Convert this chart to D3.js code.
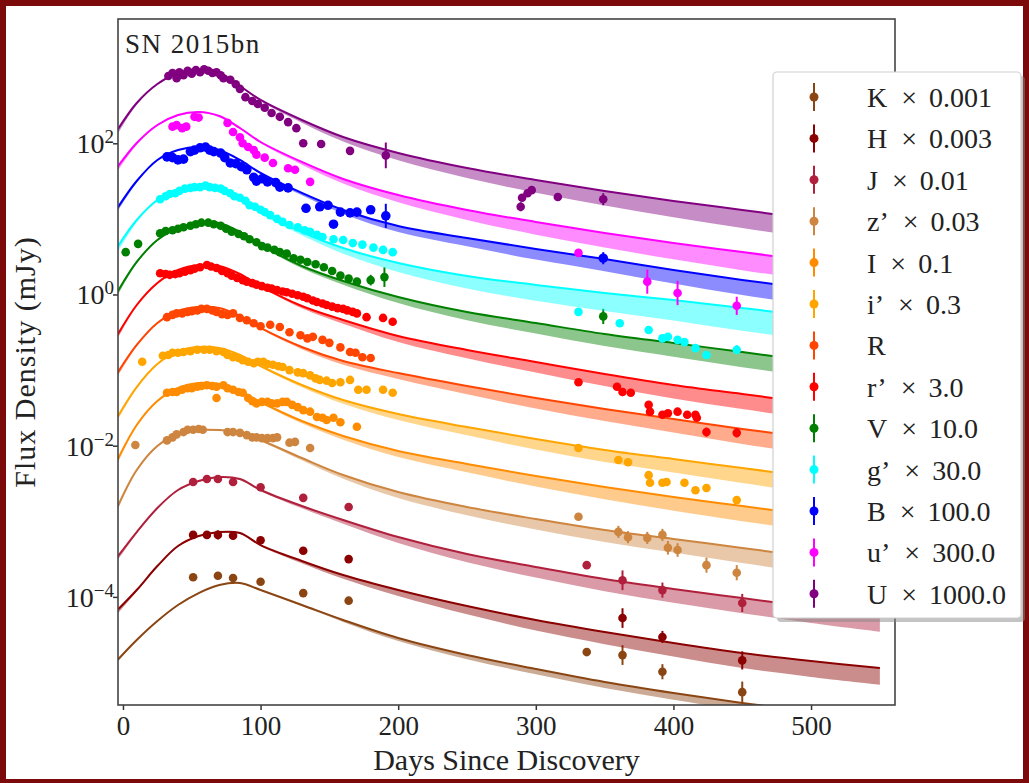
<!DOCTYPE html>
<html>
<head>
<meta charset="utf-8">
<script src="https://cdn.jsdelivr.net/npm/d3@7"></script>
<style>
  html, body { margin: 0; padding: 0; background: #7d0a0a; }
  svg { display: block; }
  text { font-family: "Liberation Serif", "Times New Roman", serif; fill: #222; }
</style>
</head>
<body>
<svg id="chart" width="1029" height="783"></svg>
<script>
// ---- Bands (plot order, bottom of the figure to top) ----
const bandNames   = ["K", "H", "J", "z’", "I", "i’", "R", "r’", "V", "g’", "B", "u’", "U"];
const bandFactors = ["0.001", "0.003", "0.01", "0.03", "0.1", "0.3", "", "3.0", "10.0", "30.0", "100.0", "300.0", "1000.0"];
const bandColors  = ["#8b4513", "#8b0000", "#b0203c", "#cd853f", "#ff8c00", "#ffa500",
                     "#ff4500", "#ff0000", "#008000", "#00ffff", "#0000ff", "#ff00ff", "#800080"];

// ---- Model light curves: log10 of scaled flux density (mJy) at these days ----
const modelDays = [-4, 10, 25, 40, 55, 70, 85, 100, 130, 160, 200, 250, 300, 350, 400, 450, 500, 550];
const modelK  = [-4.835, -4.570, -4.319, -4.107, -3.949, -3.843, -3.816, -3.909, -4.107, -4.306, -4.544, -4.769, -4.954, -5.126, -5.272, -5.404, -5.523, -5.629];
const modelH  = [-4.174, -3.909, -3.592, -3.327, -3.195, -3.142, -3.155, -3.314, -3.525, -3.711, -3.909, -4.121, -4.306, -4.465, -4.610, -4.742, -4.848, -4.941];
const modelJ  = [-3.472, -3.142, -2.824, -2.586, -2.467, -2.414, -2.441, -2.586, -2.798, -2.983, -3.208, -3.433, -3.605, -3.764, -3.896, -4.015, -4.134, -4.240];
const modelZ  = [-2.811, -2.322, -2.004, -1.846, -1.793, -1.793, -1.819, -1.925, -2.163, -2.388, -2.613, -2.811, -2.970, -3.115, -3.234, -3.353, -3.472, -3.578];
const modelI  = [-2.189, -1.726, -1.409, -1.237, -1.171, -1.184, -1.277, -1.422, -1.674, -1.872, -2.070, -2.242, -2.401, -2.547, -2.679, -2.798, -2.917, -3.023];
const modelIp = [-1.621, -1.224, -0.920, -0.748, -0.695, -0.708, -0.800, -0.946, -1.197, -1.396, -1.581, -1.753, -1.912, -2.057, -2.176, -2.295, -2.414, -2.520];
const modelR  = [-1.039, -0.668, -0.377, -0.218, -0.166, -0.179, -0.285, -0.443, -0.695, -0.880, -1.039, -1.211, -1.369, -1.515, -1.647, -1.779, -1.898, -2.004];
const modelRp = [-0.536, -0.139, 0.152, 0.324, 0.390, 0.377, 0.271, 0.112, -0.152, -0.337, -0.549, -0.734, -0.893, -1.052, -1.197, -1.316, -1.435, -1.541];
const modelV  = [0.033, 0.430, 0.721, 0.880, 0.946, 0.946, 0.827, 0.655, 0.377, 0.179, -0.033, -0.232, -0.377, -0.523, -0.642, -0.761, -0.880, -0.986];
const modelG  = [0.628, 0.985, 1.250, 1.382, 1.422, 1.382, 1.250, 1.091, 0.827, 0.615, 0.417, 0.245, 0.126, 0.020, -0.073, -0.179, -0.285, -0.377];
const modelB  = [1.144, 1.501, 1.779, 1.911, 1.951, 1.911, 1.779, 1.607, 1.343, 1.118, 0.906, 0.747, 0.602, 0.469, 0.324, 0.192, 0.073, -0.033];
const modelUp = [1.686, 2.004, 2.242, 2.374, 2.414, 2.361, 2.202, 2.017, 1.753, 1.528, 1.316, 1.118, 0.959, 0.813, 0.681, 0.562, 0.443, 0.337];
const modelU  = [2.176, 2.533, 2.784, 2.930, 2.983, 2.930, 2.758, 2.573, 2.308, 2.083, 1.872, 1.673, 1.515, 1.369, 1.237, 1.118, 0.999, 0.893];

// Width of the model uncertainty band below each curve (dex), and per-band scale of it
const spreadDex   = [0.05, 0.02, 0.012, 0.01, 0.01, 0.01, 0.012, 0.015, 0.03, 0.05, 0.08, 0.11, 0.14, 0.16, 0.18, 0.20, 0.21, 0.22];
const spreadScale = [0.5, 1, 1, 1, 1, 1, 1, 1, 1, 1.5, 1, 1.2, 1.2];

// ---- Photometry: [day, log10 scaled flux (mJy), error (dex, optional)] ----
const obsK  = [[51, -3.74], [69, -3.72, 0.05], [80, -3.75, 0.04], [100, -3.80, 0.04], [131, -3.95], [164, -4.05],
               [337, -4.73], [363, -4.77, 0.13], [392, -4.99, 0.10], [450, -5.26, 0.14]];
const obsH  = [[51, -3.18], [61, -3.18], [69, -3.18, 0.06], [80, -3.19, 0.05], [100, -3.25], [131, -3.39], [164, -3.50],
               [363, -4.28, 0.13], [392, -4.53, 0.08], [450, -4.84, 0.12]];
const obsJ  = [[51, -2.48], [61, -2.44], [69, -2.44], [80, -2.48], [100, -2.55], [131, -2.69], [164, -2.81],
               [337, -3.58], [363, -3.78, 0.13], [392, -3.91, 0.10], [450, -4.08, 0.12]];
const obsZ  = [[9, -1.99], [32, -1.93], [36, -1.89], [39, -1.85], [44, -1.82], [47, -1.79], [51, -1.79], [55, -1.78], [58, -1.79],
               [76, -1.82], [80, -1.82], [85, -1.83], [90, -1.86], [94, -1.89], [97, -1.89], [101, -1.90], [105, -1.90],
               [109, -1.90], [112, -1.89], [121, -1.96], [125, -1.95], [136, -2.03],
               [331, -2.94], [360, -3.14, 0.08], [367, -3.21, 0.08], [381, -3.22, 0.08], [392, -3.18, 0.08],
               [396, -3.35, 0.09], [403, -3.38, 0.09], [424, -3.58, 0.10], [446, -3.68, 0.10]];
const obsI  = [[32, -1.30], [36, -1.29], [39, -1.29], [43, -1.26], [47, -1.24], [50, -1.24], [54, -1.22], [57, -1.21],
               [61, -1.20], [65, -1.21], [68, -1.22], [68, -1.37], [73, -1.20], [76, -1.24], [80, -1.26], [84, -1.29],
               [87, -1.30], [91, -1.37], [94, -1.41], [97, -1.44], [101, -1.42], [105, -1.42], [108, -1.44], [112, -1.44],
               [116, -1.42], [119, -1.42], [123, -1.46], [127, -1.49], [131, -1.53], [136, -1.55], [141, -1.62],
               [145, -1.63], [148, -1.66], [153, -1.63], [158, -1.69], [170, -1.75]];
const obsIp = [[14, -0.89], [29, -0.81], [33, -0.80], [36, -0.77], [40, -0.77], [44, -0.76], [49, -0.75], [54, -0.73],
               [59, -0.73], [63, -0.73], [68, -0.75], [73, -0.76], [76, -0.80], [80, -0.83], [84, -0.84], [87, -0.87],
               [91, -0.89], [95, -0.91], [98, -0.89], [102, -0.89], [105, -0.92], [109, -0.93], [113, -0.95], [116, -0.96],
               [121, -1.00], [127, -1.03], [131, -1.04], [136, -1.07], [140, -1.11], [143, -1.13], [148, -1.14],
               [152, -1.17], [158, -1.16], [165, -1.13], [171, -1.26], [177, -1.26], [189, -1.26], [196, -1.30],
               [331, -2.03], [360, -2.19], [367, -2.22], [382, -2.39], [383, -2.49], [392, -2.49], [395, -2.48],
               [408, -2.49], [416, -2.59], [424, -2.56], [446, -2.72, 0.05]];
const obsR  = [[32, -0.30], [36, -0.27], [39, -0.25], [43, -0.25], [47, -0.23], [50, -0.22], [54, -0.21], [57, -0.19],
               [61, -0.19], [65, -0.21], [68, -0.23], [72, -0.26], [76, -0.27], [80, -0.25], [85, -0.31], [90, -0.34],
               [95, -0.38], [100, -0.42], [107, -0.40], [114, -0.43], [121, -0.50], [129, -0.54], [134, -0.58],
               [138, -0.56], [145, -0.60], [150, -0.64], [158, -0.70], [165, -0.76], [169, -0.77], [174, -0.83], [180, -0.84]];
const obsRp = [[27, 0.28], [31, 0.27], [34, 0.26], [38, 0.27], [41, 0.28], [45, 0.30], [49, 0.32], [52, 0.34], [56, 0.36],
               [61, 0.39], [64, 0.37], [68, 0.35], [72, 0.31], [76, 0.28], [79, 0.25], [83, 0.22], [87, 0.19], [90, 0.17],
               [94, 0.15], [97, 0.13], [101, 0.11], [105, 0.09], [108, 0.08], [112, 0.06], [116, 0.04], [119, 0.03],
               [123, 0.01], [127, -0.01], [131, -0.03], [134, -0.05], [138, -0.08], [141, -0.10], [145, -0.12],
               [148, -0.14], [152, -0.16], [156, -0.18], [160, -0.19], [163, -0.21], [167, -0.23], [170, -0.25],
               [177, -0.30], [189, -0.31], [196, -0.36],
               [331, -1.16], [359, -1.22], [363, -1.29], [369, -1.30], [382, -1.46], [383, -1.55], [392, -1.59],
               [396, -1.57], [403, -1.55], [410, -1.59], [416, -1.59], [417, -1.63], [424, -1.82, 0.06], [446, -1.83, 0.06]];
const obsV  = [[2, 0.56], [11, 0.67], [27, 0.81], [31, 0.84], [36, 0.85], [40, 0.87], [44, 0.89], [49, 0.91], [53, 0.93],
               [57, 0.95], [62, 0.95], [66, 0.93], [71, 0.91], [75, 0.87], [79, 0.83], [84, 0.80], [88, 0.77], [92, 0.73],
               [97, 0.69], [101, 0.64], [105, 0.62], [110, 0.59], [114, 0.56], [119, 0.54], [124, 0.48], [129, 0.46],
               [134, 0.43], [140, 0.40], [146, 0.36], [152, 0.31], [158, 0.25], [164, 0.21], [170, 0.17],
               [180, 0.19, 0.07], [190, 0.23, 0.13], [349, -0.29, 0.10]];
const obsG  = [[27, 1.26], [31, 1.30], [34, 1.33], [38, 1.34], [41, 1.37], [45, 1.40], [49, 1.41], [52, 1.42], [56, 1.42],
               [60, 1.44], [63, 1.42], [67, 1.41], [71, 1.40], [74, 1.37], [78, 1.34], [81, 1.30], [85, 1.28], [89, 1.24],
               [92, 1.18], [96, 1.16], [100, 1.12], [103, 1.09], [107, 1.05], [112, 1.00], [116, 0.96], [121, 0.92],
               [127, 0.89], [132, 0.85], [136, 0.83], [141, 0.79], [145, 0.76], [153, 0.73], [160, 0.72], [167, 0.68],
               [174, 0.66], [182, 0.62], [189, 0.59], [196, 0.56],
               [331, -0.23], [361, -0.38], [382, -0.47], [392, -0.58], [396, -0.56], [403, -0.60], [408, -0.63],
               [416, -0.71], [424, -0.80], [446, -0.73, 0.06]];
const obsB  = [[32, 1.82], [36, 1.81], [40, 1.78], [44, 1.79], [49, 1.89], [52, 1.91], [56, 1.94], [60, 1.95], [63, 1.91],
               [66, 1.89], [71, 1.87], [74, 1.81], [78, 1.74], [82, 1.73], [86, 1.69], [90, 1.65], [95, 1.55], [97, 1.50],
               [101, 1.53], [105, 1.49], [111, 1.48], [114, 1.42], [120, 1.41], [133, 1.14], [143, 1.16], [149, 1.18],
               [153, 0.93], [158, 1.09], [165, 1.08], [170, 1.09], [180, 1.12], [191, 1.04, 0.16], [349, 0.48, 0.08]];
const obsUp = [[36, 2.22], [39, 2.24], [43, 2.20], [46, 2.22], [52, 2.35], [55, 2.34], [76, 2.27], [80, 2.15], [85, 2.08],
               [87, 2.00], [91, 1.95], [95, 1.91], [97, 1.85], [103, 1.81], [109, 1.74], [120, 1.67], [125, 1.65],
               [136, 1.49], [331, 0.55, 0.05], [381, 0.17, 0.16], [403, 0.02, 0.16], [446, -0.15, 0.12]];
const obsU  = [[33, 2.89], [36, 2.93], [39, 2.86], [41, 2.94], [44, 2.90], [47, 2.96], [50, 2.92], [53, 2.97], [56, 2.94],
               [59, 2.98], [62, 2.96], [65, 2.93], [68, 2.94], [71, 2.90], [73, 2.86], [78, 2.84], [82, 2.78], [85, 2.72],
               [89, 2.61], [94, 2.56], [98, 2.52], [103, 2.47], [108, 2.40], [114, 2.35], [120, 2.28], [126, 2.20],
               [131, 2.00], [144, 1.99], [165, 1.90], [191, 1.84, 0.17],
               [289, 1.16, 0.06], [290, 1.28], [294, 1.34], [297, 1.38], [316, 1.29], [349, 1.26, 0.08]];

// ---- Axis ticks ----
const xTicks = [0, 100, 200, 300, 400, 500];
const yTickExponents = [2, 0, -2, -4];

const models = [modelK, modelH, modelJ, modelZ, modelI, modelIp, modelR, modelRp, modelV, modelG, modelB, modelUp, modelU];
const observations = [obsK, obsH, obsJ, obsZ, obsI, obsIp, obsR, obsRp, obsV, obsG, obsB, obsUp, obsU];

// ---- Layout ----
const W = 1029, H = 783;
const plotL = 118, plotR = 895, plotT = 19, plotB = 705;

const svg = d3.select("#chart");

// frame and page
svg.append("rect").attr("width", W).attr("height", H).attr("fill", "#7d0a0a");
svg.append("rect").attr("x", 6).attr("y", 6).attr("width", W - 12).attr("height", H - 10).attr("fill", "#fff");

const x = d3.scaleLinear().domain([-3.6, 561]).range([plotL, plotR]);
const y = d3.scaleLog().domain([Math.pow(10, -5.43), Math.pow(10, 3.644)]).range([plotB, plotT]);

svg.append("defs").append("clipPath").attr("id", "plotClip")
  .append("rect").attr("x", plotL).attr("y", plotT).attr("width", plotR - plotL).attr("height", plotB - plotT);

const plot = svg.append("g").attr("clip-path", "url(#plotClip)");
const smooth = d3.curveCatmullRom.alpha(0.5);

bandNames.forEach((name, i) => {
  const color = bandColors[i];
  const pts = modelDays.map((d, j) => ({
    t: d,
    v: models[i][j],
    lo: models[i][j] - spreadDex[j] * spreadScale[i]
  }));

  const area = d3.area()
    .x(d => x(d.t))
    .y0(d => y(Math.pow(10, d.lo)))
    .y1(d => y(Math.pow(10, d.v)))
    .curve(smooth);
  const line = d3.line()
    .x(d => x(d.t))
    .y(d => y(Math.pow(10, d.v)))
    .curve(smooth);

  const g = plot.append("g").attr("class", "band");
  g.append("path").attr("d", area(pts)).attr("fill", color).attr("fill-opacity", 0.45).attr("stroke", "none");
  g.append("path").attr("d", line(pts)).attr("fill", "none").attr("stroke", color).attr("stroke-width", 2);

  const obs = observations[i];
  g.selectAll("line.err").data(obs.filter(o => o.length > 2)).join("line")
    .attr("class", "err")
    .attr("x1", d => x(d[0])).attr("x2", d => x(d[0]))
    .attr("y1", d => y(Math.pow(10, d[1] + d[2])))
    .attr("y2", d => y(Math.pow(10, d[1] - d[2])))
    .attr("stroke", color).attr("stroke-width", 2);
  g.selectAll("circle").data(obs).join("circle")
    .attr("cx", d => x(d[0]))
    .attr("cy", d => y(Math.pow(10, d[1])))
    .attr("r", name === "B" ? 4.8 : 4.3)
    .attr("fill", color);
});

// ---- Axes ----
const xAxis = d3.axisBottom(x).tickValues(xTicks).tickSize(5).tickFormat(d3.format("d"));
const gx = svg.append("g").attr("transform", `translate(0,${plotB})`).call(xAxis);
gx.select(".domain").remove();
gx.selectAll(".tick line").attr("stroke", "#333").attr("stroke-width", 1.5);
gx.selectAll(".tick text").attr("y", 30).attr("dy", 0)
  .attr("font-size", 27).attr("font-family", "Liberation Serif, serif").attr("fill", "#222");

const yAxis = d3.axisLeft(y).tickValues(yTickExponents.map(e => Math.pow(10, e))).tickSize(5).tickFormat("");
const gy = svg.append("g").attr("transform", `translate(${plotL},0)`).call(yAxis);
gy.select(".domain").remove();
gy.selectAll(".tick line").attr("stroke", "#333").attr("stroke-width", 1.5);

yTickExponents.forEach(e => {
  const ty = y(Math.pow(10, e));
  const t = svg.append("text").attr("x", 114).attr("y", ty + 10)
    .attr("text-anchor", "end").attr("font-size", 28);
  t.append("tspan").text("10");
  t.append("tspan").attr("dy", -10).attr("font-size", 19)
    .text(e < 0 ? "\u2212" + Math.abs(e) : String(e));
});

// plot frame
svg.append("rect").attr("x", plotL).attr("y", plotT)
  .attr("width", plotR - plotL).attr("height", plotB - plotT)
  .attr("fill", "none").attr("stroke", "#444").attr("stroke-width", 1.6);

// labels
svg.append("text").attr("x", 125).attr("y", 53).attr("font-size", 27)
  .attr("letter-spacing", 1.5).text("SN 2015bn");
svg.append("text").attr("x", (plotL + plotR) / 2).attr("y", 770)
  .attr("text-anchor", "middle").attr("font-size", 30).text("Days Since Discovery");
svg.append("text").attr("transform", "translate(35,362) rotate(-90)")
  .attr("text-anchor", "middle").attr("font-size", 30).attr("letter-spacing", 1)
  .text("Flux Density (mJy)");

// ---- Legend ----
const legX = 773, legY = 72, legW = 248, legH = 546;
const leg = svg.append("g");
leg.append("rect").attr("x", legX + 4).attr("y", legY + 4).attr("width", legW).attr("height", legH)
  .attr("rx", 4).attr("fill", "#888").attr("fill-opacity", 0.5);
leg.append("rect").attr("x", legX).attr("y", legY).attr("width", legW).attr("height", legH)
  .attr("rx", 4).attr("fill", "#fff").attr("stroke", "#d0d0d0").attr("stroke-width", 1.2);

bandNames.forEach((name, i) => {
  const ry = 97 + i * 41.4;
  const c = bandColors[i];
  leg.append("line").attr("x1", 814).attr("x2", 814).attr("y1", ry - 14).attr("y2", ry + 14)
    .attr("stroke", c).attr("stroke-width", 2);
  leg.append("circle").attr("cx", 814).attr("cy", ry).attr("r", 4.5).attr("fill", c);
  const t = leg.append("text").attr("x", 867).attr("y", ry + 10).attr("font-size", 28);
  t.append("tspan").text(name);
  if (bandFactors[i]) {
    t.append("tspan").attr("dx", 14).text("\u00d7");
    t.append("tspan").attr("dx", 12).text(bandFactors[i]);
  }
});
</script>
</body>
</html>
